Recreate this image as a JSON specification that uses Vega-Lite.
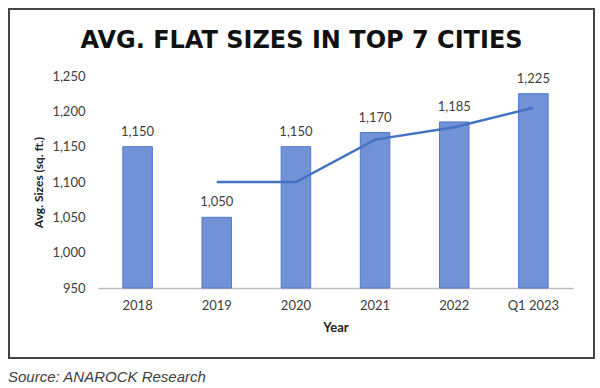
{
  "$schema": "https://vega.github.io/schema/vega-lite/v6.json",
  "padding": {"left": 8, "top": 8, "right": 5, "bottom": 2},
  "background": "white",
  "title": {
    "text": "Source: ANAROCK Research",
    "orient": "bottom",
    "anchor": "start",
    "offset": 11,
    "font": "Liberation Sans",
    "fontSize": 15,
    "fontStyle": "italic",
    "fontWeight": "normal",
    "color": "#404040"
  },
  "config": {
    "view": {"stroke": "#444444", "strokeWidth": 2},
    "axis": {"grid": false, "ticks": false, "labelFont": "Lato", "titleFont": "Lato"}
  },
  "vconcat": [
    {
      "width": 585,
      "height": 349,
      "title": {
        "text": "AVG. FLAT SIZES IN TOP 7 CITIES",
        "orient": "top",
        "anchor": "middle",
        "offset": -44,
        "font": "DejaVu Sans",
        "fontSize": 24,
        "fontWeight": "bold",
        "color": "#111111"
      },
      "data": {
        "values": [
          {"year": "2018", "size": 1150, "avg": null, "label": "1,150"},
          {"year": "2019", "size": 1050, "avg": 1100, "label": "1,050"},
          {"year": "2020", "size": 1150, "avg": 1100, "label": "1,150"},
          {"year": "2021", "size": 1170, "avg": 1160, "label": "1,170"},
          {"year": "2022", "size": 1185, "avg": 1177.5, "label": "1,185"},
          {"year": "Q1 2023", "size": 1225, "avg": 1205, "label": "1,225"}
        ]
      },
      "encoding": {
        "x": {
          "field": "year",
          "type": "ordinal",
          "sort": null,
          "scale": {"range": [89, 564], "paddingInner": 0.627, "paddingOuter": 0.314},
          "axis": {
            "title": "Year",
            "labelAngle": 0,
            "offset": -70,
            "labelPadding": 11,
            "labelFontSize": 13,
            "labelColor": "#404040",
            "titleFontSize": 13,
            "titleFontWeight": "bold",
            "titleColor": "#222222",
            "titlePadding": 9,
            "domainColor": "#bfbfbf",
            "domainWidth": 1.5
          }
        }
      },
      "layer": [
        {
          "mark": {"type": "bar", "fill": "#7192d6", "stroke": "#4f79c8", "strokeWidth": 1},
          "encoding": {
            "y": {
              "field": "size",
              "type": "quantitative",
              "scale": {"domain": [950, 1250], "range": [279, 67], "zero": false, "nice": false},
              "axis": {
                "title": "Avg. Sizes (sq. ft.)",
                "values": [950, 1000, 1050, 1100, 1150, 1200, 1250],
                "format": ",d",
                "domain": false,
                "offset": -82,
                "labelPadding": 6,
                "labelFontSize": 13,
                "labelColor": "#404040",
                "titleFontSize": 12,
                "titleFontWeight": "bold",
                "titleColor": "#222222",
                "titlePadding": 6
              }
            },
            "y2": {"datum": 950}
          }
        },
        {
          "mark": {"type": "line", "color": "#4472c4", "strokeWidth": 2.5},
          "encoding": {
            "y": {"field": "avg", "type": "quantitative"}
          }
        },
        {
          "mark": {"type": "text", "baseline": "middle", "dy": -15, "font": "Lato", "fontSize": 13, "color": "#404040"},
          "encoding": {
            "y": {"field": "size", "type": "quantitative"},
            "text": {"field": "label"}
          }
        }
      ]
    }
  ]
}
